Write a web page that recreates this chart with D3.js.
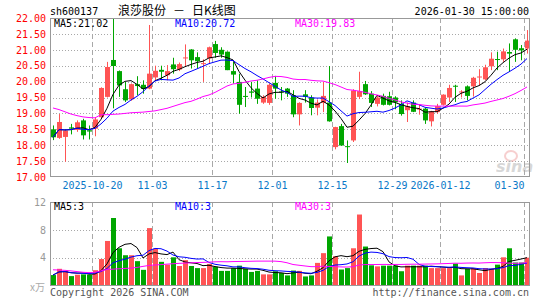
<!DOCTYPE html>
<html>
<head>
<meta charset="utf-8">
<script src="https://cdn.jsdelivr.net/npm/d3@7"></script>
<style>
  body { margin: 0; background: #fff; }
  svg { display: block; }
  text { font-family: "DejaVu Sans Mono", monospace; font-size: 10px; }
</style>
</head>
<body>
<div id="chart"></div>
<script>
// daily bars 2025-10-09 .. 2026-01-30 (80 trading days)
const opens = [18.50,18.23,18.26,18.56,18.48,18.78,18.47,18.52,18.88,19.52,
  20.68,20.33,19.76,19.44,19.92,19.90,19.78,20.13,20.37,20.20,
  20.54,20.38,20.73,21.01,20.77,20.55,20.73,21.18,21.00,20.94,
  20.33,19.99,19.55,19.69,19.78,19.34,19.33,19.96,19.69,19.78,
  19.57,18.97,19.60,19.50,19.18,19.33,19.34,17.94,18.60,17.97,
  18.15,19.52,19.92,19.62,19.30,19.55,19.54,19.50,19.30,19.10,
  19.34,19.12,19.15,18.75,19.04,19.27,19.50,19.87,19.66,19.85,
  19.85,20.13,20.07,20.48,20.71,20.70,20.93,21.33,21.05,21.04]
const highs = [18.62,18.98,18.47,18.67,18.78,18.83,18.62,18.88,19.82,20.62,
  22.00,20.35,19.99,19.94,20.17,20.04,21.78,20.50,20.50,20.52,
  20.75,20.60,21.17,21.02,20.92,20.70,21.10,21.28,21.08,20.95,
  20.62,20.25,19.83,19.99,20.04,19.57,19.94,20.18,19.83,19.80,
  19.73,19.35,19.73,19.57,19.44,19.99,20.49,18.58,18.67,18.15,
  19.76,20.31,20.02,19.70,19.56,19.62,19.68,19.54,19.41,19.34,
  19.41,19.27,19.18,19.08,19.30,19.60,19.90,19.90,19.73,19.88,
  20.15,20.39,20.53,20.92,20.94,21.04,21.20,21.36,21.15,21.62]
const lows = [18.16,18.20,17.48,18.34,18.42,18.18,18.18,18.28,18.85,19.50,
  19.16,19.52,19.36,19.40,19.57,19.62,19.76,20.05,20.04,20.04,
  20.25,20.33,20.46,20.41,20.41,19.99,20.55,20.75,20.75,20.36,
  19.94,18.99,19.20,19.50,19.30,19.30,19.27,19.46,19.41,19.52,
  18.88,18.62,19.34,18.94,18.94,19.04,18.74,17.87,17.98,17.44,
  18.10,19.45,19.58,19.20,19.22,19.25,19.25,19.13,18.93,18.73,
  19.04,18.96,18.67,18.59,18.99,19.25,19.36,19.36,19.50,19.41,
  19.53,19.88,20.04,20.36,20.36,20.62,20.30,20.62,20.67,20.88]
const closes = [18.25,18.73,18.46,18.52,18.72,18.31,18.43,18.81,19.80,20.46,
  20.49,19.88,19.41,19.92,19.86,19.77,20.25,20.34,20.31,20.33,
  20.39,20.55,20.76,20.67,20.64,20.58,21.08,20.90,20.85,20.36,
  20.22,19.27,19.53,19.65,19.46,19.52,19.90,19.78,19.66,19.62,
  18.97,19.33,19.52,19.17,19.34,19.55,18.75,18.57,17.99,17.96,
  19.72,19.70,19.60,19.33,19.50,19.27,19.27,19.35,18.98,19.23,
  19.05,19.15,18.78,19.06,19.23,19.59,19.80,19.85,19.69,19.55,
  20.12,20.16,20.45,20.72,20.69,20.95,20.88,21.00,20.98,21.29]
// volume, 万手
const volumes = [1.5,2.4,2.1,1.35,1.55,1.6,1.55,2.2,3.8,6.4,
  9.7,5.35,4.35,4.35,3.5,2.25,8.25,5.3,3.4,3.0,
  4.05,2.8,3.65,2.8,2.5,2.5,3.1,2.7,2.1,2.1,
  2.5,2.85,2.4,1.95,2.1,1.6,1.6,2.05,1.8,1.45,
  2.15,2.1,1.3,1.45,3.25,4.65,7.05,4.2,2.3,2.5,
  5.35,10.2,5.6,2.9,2.75,2.85,2.85,2.85,2.05,2.85,
  2.85,2.85,2.85,2.5,2.5,2.5,2.5,3.15,1.45,2.4,
  2.5,1.8,2.5,2.4,3.0,4.05,5.35,3.3,3.3,4.0]
// MA30 while fewer than 30 bars are in the window
const ma30Head = [19.17,19.12,19.05,18.98,18.93,18.89,18.87,18.86,18.96,18.96,
  18.97,18.98,19.00,19.02,19.03,19.04,19.06,19.08,19.12,19.16,
  19.22,19.28,19.34,19.38,19.45,19.53,19.58,19.66,19.76]
const volMa30Head = [2.26,2.22,2.18,2.10,2.00,1.90,1.85,1.90,2.10,2.30,
  2.35,2.40,2.45,2.50,2.60,2.75,2.88,2.95,3.00,3.07,
  3.13,3.18,3.22,3.26,3.30,3.32,3.36,3.40,3.42]

const tickIdx = [7, 17, 27, 37, 47, 57, 65, 79]
const tickLabels = ['2025-10-20', '11-03', '11-17', '12-01', '12-15', '12-29', '2026-01-12', '01-30']
const priceTicks = [17, 17.5, 18, 18.5, 19, 19.5, 20, 20.5, 21, 21.5, 22]
const volTicks = [4, 8, 12]
const volLegend = ['3', '3', '3']

const W = 545, H = 300
const L = 50, R = 530
const RED = '#ff5454', GREEN = '#00a600', GRID = '#a8a8a8'

const svg = d3.select('#chart').append('svg').attr('width', W).attr('height', H)

const n = closes.length
const x = d3.scaleLinear().domain([0, n]).range([L, R])
const y = d3.scaleLinear().domain([17, 22]).range([177, 18])
const yv = d3.scaleLinear().domain([0, 12]).range([285.5, 202])

function movAvg(arr, k, head) {
  return arr.map((_, i) => {
    if (head && i < head.length) return head[i]
    return d3.mean(arr.slice(Math.max(0, i - k + 1), i + 1))
  })
}
const ma5 = movAvg(closes, 5), ma10 = movAvg(closes, 10), ma30 = movAvg(closes, 30, ma30Head)
const vma5 = movAvg(volumes, 5), vma10 = movAvg(volumes, 10), vma30 = movAvg(volumes, 30, volMa30Head)
const up = i => closes[i] >= opens[i]

// grid: dotted rows, dashed date columns
const grid = svg.append('g')
grid.append('g').selectAll('line').data(priceTicks.slice(1, -1)).join('line')
  .attr('x1', L).attr('x2', R).attr('y1', d => Math.round(y(d)) + 0.5).attr('y2', d => Math.round(y(d)) + 0.5)
  .attr('stroke', GRID).attr('stroke-dasharray', '1,2')
grid.append('g').selectAll('line').data(volTicks.slice(0, -1)).join('line')
  .attr('x1', L).attr('x2', R).attr('y1', d => Math.round(yv(d)) + 0.5).attr('y2', d => Math.round(yv(d)) + 0.5)
  .attr('stroke', GRID).attr('stroke-dasharray', '1,2')
for (const [t, b] of [[18, 177], [202, 286]]) {
  grid.append('g').selectAll('line').data(tickIdx).join('line')
    .attr('x1', d => Math.round(x(d)) + 0.5).attr('x2', d => Math.round(x(d)) + 0.5)
    .attr('y1', t).attr('y2', b)
    .attr('stroke', GRID).attr('stroke-dasharray', '5,3')
}

// sina watermark
const wm = svg.append('g').attr('opacity', 0.5)
wm.append('ellipse').attr('cx', 511).attr('cy', 156).attr('rx', 6).attr('ry', 5)
  .attr('fill', 'none').attr('stroke', '#f0a0a0').attr('stroke-width', 2)
wm.append('text').attr('x', 496).attr('y', 172).text('sina')
  .style('font-family', 'DejaVu Sans').style('font-size', '16px').style('font-weight', 'bold')
  .style('font-style', 'italic').attr('fill', '#b0b0b0')

// candles
const candles = svg.append('g').selectAll('g').data(d3.range(n)).join('g')
candles.append('line')
  .attr('x1', i => Math.round(x(i)) + 3.5).attr('x2', i => Math.round(x(i)) + 3.5)
  .attr('y1', i => y(highs[i])).attr('y2', i => y(lows[i]))
  .attr('stroke', i => up(i) ? RED : GREEN)
candles.append('rect')
  .attr('x', i => Math.round(x(i)) + 1).attr('width', 5)
  .attr('y', i => y(Math.max(opens[i], closes[i])))
  .attr('height', i => Math.max(1, Math.abs(y(opens[i]) - y(closes[i]))))
  .attr('fill', i => up(i) ? RED : GREEN)

// volume bars
svg.append('g').selectAll('rect').data(d3.range(n)).join('rect')
  .attr('x', i => Math.round(x(i)) + 1).attr('width', 5)
  .attr('y', i => yv(volumes[i])).attr('height', i => yv(0) - yv(volumes[i]))
  .attr('fill', i => up(i) ? RED : GREEN)

// moving averages
const lineP = d3.line().x((d, i) => x(i + 0.5)).y(d => y(d))
const lineV = d3.line().x((d, i) => x(i + 0.5)).y(d => yv(d))
const maColors = ['#000', '#0000ff', '#ff00ff']
;[ma5, ma10, ma30].forEach((s, k) => svg.append('path').attr('d', lineP(s))
  .attr('fill', 'none').attr('stroke', maColors[k]).attr('stroke-width', 1))
;[vma5, vma10, vma30].forEach((s, k) => svg.append('path').attr('d', lineV(s))
  .attr('fill', 'none').attr('stroke', maColors[k]).attr('stroke-width', 1))

// frames
svg.append('rect').attr('x', L + 0.5).attr('y', 18.5).attr('width', R - L - 1).attr('height', 158)
  .attr('fill', 'none').attr('stroke', '#999')
svg.append('rect').attr('x', L + 0.5).attr('y', 202.5).attr('width', R - L - 1).attr('height', 83)
  .attr('fill', 'none').attr('stroke', '#999')

// axes
function styleAxis(g, color) {
  g.select('.domain').remove()
  g.attr('font-family', null).attr('font-size', null)
  g.selectAll('text').attr('fill', color)
}
svg.append('g').attr('transform', `translate(${L},0)`)
  .call(d3.axisLeft(y).tickValues(priceTicks).tickFormat(d3.format('.2f')).tickSize(0).tickPadding(4))
  .call(g => styleAxis(g, '#f00'))
svg.append('g').attr('transform', `translate(${L},0)`)
  .call(d3.axisLeft(yv).tickValues(volTicks).tickSize(0).tickPadding(4))
  .call(g => styleAxis(g, '#999'))
svg.append('g').attr('transform', 'translate(0,177)')
  .call(d3.axisBottom(x).tickValues(tickIdx).tickFormat((d, i) => tickLabels[i]).tickSize(0).tickPadding(5))
  .call(g => {
    styleAxis(g, '#0a78c8')
    g.selectAll('.tick:last-of-type text').attr('text-anchor', 'end')
  })

// header texts
const cjkFont = '"Noto Sans CJK SC", sans-serif'
svg.append('text').attr('x', 50).attr('y', 15).text('sh600137')
svg.append('text').attr('x', 118).attr('y', 15).text('浪莎股份').style('font-family', cjkFont).style('font-size', '12px')
svg.append('text').attr('x', 173).attr('y', 15).text('－').style('font-family', cjkFont).style('font-size', '12px')
svg.append('text').attr('x', 192).attr('y', 15).text('日K线图').style('font-family', cjkFont).style('font-size', '12px')
svg.append('text').attr('x', 529).attr('y', 15).attr('text-anchor', 'end').text('2026-01-30 15:00:00')

// legends
const last = n - 1
const fmt = d3.format('.2f')
svg.append('text').attr('x', 54).attr('y', 27).text(`MA5:${fmt(ma5[last])}`).attr('fill', '#000')
svg.append('text').attr('x', 175).attr('y', 27).text(`MA10:${fmt(ma10[last])}`).attr('fill', '#0000ff')
svg.append('text').attr('x', 295).attr('y', 27).text(`MA30:${fmt(ma30[last])}`).attr('fill', '#ff00ff')
svg.append('text').attr('x', 54).attr('y', 210).text(`MA5:${volLegend[0]}`).attr('fill', '#000')
svg.append('text').attr('x', 175).attr('y', 210).text(`MA10:${volLegend[1]}`).attr('fill', '#0000ff')
svg.append('text').attr('x', 295).attr('y', 210).text(`MA30:${volLegend[2]}`).attr('fill', '#ff00ff')

// footer
svg.append('text').attr('x', 45).attr('y', 291).attr('text-anchor', 'end').attr('fill', '#aaa')
  .style('font-family', cjkFont).style('font-size', '10px').text('x万')
svg.append('text').attr('x', 50).attr('y', 296).attr('fill', '#555').text('Copyright 2026 SINA.COM')
svg.append('text').attr('x', 529).attr('y', 296).attr('text-anchor', 'end').attr('fill', '#555').text('http://finance.sina.com.cn')
</script>
</body>
</html>
